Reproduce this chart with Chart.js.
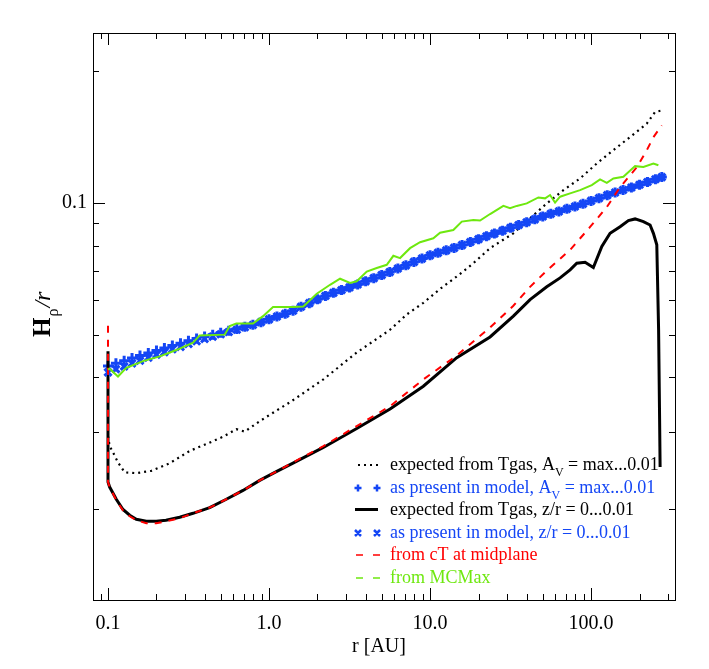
<!DOCTYPE html>
<html>
<head>
<meta charset="utf-8">
<script src="https://cdn.jsdelivr.net/npm/chart.js@4.4.0/dist/chart.umd.min.js"></script>
<style>
  html, body { margin: 0; padding: 0; background: #fff; }
  canvas { display: block; }
</style>
</head>
<body>
<canvas id="myChart" width="709" height="669"></canvas>
<script>
// values: r [AU] and H_p/r
var rGasAv = [0.1, 0.1024, 0.1074, 0.1154, 0.127, 0.1499, 0.1857, 0.2416, 0.3218, 0.4078, 0.5179, 0.6266, 0.7067, 0.8755, 1.110, 1.345, 2.175, 3.505, 5.645, 7.166, 9.087, 11.54, 14.65, 18.57, 23.59, 32.91, 41.80, 53.06, 67.29, 85.44, 108.5, 137.6, 174.7, 221.8, 249.7, 274.8];
var hGasAv = [0.0294, 0.0279, 0.0270, 0.0256, 0.0243, 0.0242, 0.0245, 0.0255, 0.0272, 0.0282, 0.0293, 0.0305, 0.0301, 0.0318, 0.0336, 0.0351, 0.0396, 0.0456, 0.0514, 0.0557, 0.0592, 0.0637, 0.0680, 0.0729, 0.0789, 0.0853, 0.0923, 0.0998, 0.1070, 0.1138, 0.1231, 0.1320, 0.1415, 0.1518, 0.1613, 0.1627];

var rModel = [0.1, 0.112, 0.126, 0.141, 0.158, 0.178, 0.2, 0.224, 0.251, 0.282, 0.316, 0.355, 0.398, 0.447, 0.501, 0.562, 0.631, 0.708, 0.794, 0.891,
  1.0, 1.12, 1.26, 1.41, 1.58, 1.78, 2.0, 2.24, 2.51, 2.82, 3.16, 3.55, 3.98, 4.47, 5.01, 5.62, 6.31, 7.08, 7.94, 8.91,
  10, 11.2, 12.6, 14.1, 15.8, 17.8, 20, 22.4, 25.1, 28.2, 31.6, 35.5, 39.8, 44.7, 50.1, 56.2, 63.1, 70.8, 79.4, 89.1,
  100, 112, 126, 141, 158, 178, 200, 224, 251, 275];
var hModelAv = [0.0425, 0.0431, 0.0437, 0.0443, 0.0449, 0.0455, 0.0461, 0.0467, 0.0473, 0.0479, 0.0485, 0.0491, 0.0496, 0.0501, 0.0506, 0.0511, 0.0516, 0.0522, 0.0528, 0.0535,
  0.0543, 0.0551, 0.0559, 0.0568, 0.0580, 0.0591, 0.0603, 0.0614, 0.0624, 0.0633, 0.0642, 0.0652, 0.0663, 0.0674, 0.0685, 0.0696, 0.0709, 0.0721, 0.0734, 0.0747,
  0.0760, 0.0770, 0.0780, 0.0790, 0.0802, 0.0815, 0.0827, 0.0840, 0.0852, 0.0865, 0.0878, 0.0891, 0.0904, 0.0918, 0.0932, 0.0945, 0.0957, 0.0970, 0.0982, 0.0996,
  0.1011, 0.1026, 0.1042, 0.1057, 0.1071, 0.1085, 0.1101, 0.1117, 0.1133, 0.1146];
var hModelZ = [0.0411, 0.0418, 0.0424, 0.0431, 0.0437, 0.0444, 0.0451, 0.0457, 0.0464, 0.0470, 0.0477, 0.0484, 0.0490, 0.0496, 0.0502, 0.0508, 0.0514, 0.0521, 0.0527, 0.0535,
  0.0543, 0.0551, 0.0559, 0.0568, 0.0580, 0.0591, 0.0603, 0.0614, 0.0624, 0.0633, 0.0642, 0.0652, 0.0663, 0.0674, 0.0685, 0.0696, 0.0709, 0.0721, 0.0734, 0.0747,
  0.0760, 0.0770, 0.0780, 0.0790, 0.0802, 0.0815, 0.0827, 0.0840, 0.0852, 0.0865, 0.0878, 0.0891, 0.0904, 0.0918, 0.0932, 0.0945, 0.0957, 0.0970, 0.0982, 0.0996,
  0.1011, 0.1026, 0.1042, 0.1057, 0.1071, 0.1085, 0.1101, 0.1117, 0.1133, 0.1146];

var rGasZ = [0.1, 0.1, 0.1024, 0.1126, 0.1239, 0.1364, 0.1499, 0.1729, 0.1995, 0.2292, 0.2788, 0.3373, 0.4282, 0.5430, 0.6895, 0.8755, 1.110, 1.409, 2.175, 3.505, 5.645, 9.087, 14.65, 23.59, 32.91, 41.80, 53.06, 64.20, 74.07, 81.50, 91.78, 103.3, 116.6, 131.2, 151.4, 170.5, 187.6, 211.3, 232.5, 243.8, 255.9, 262.6, 266.4, 268.3];
var hGasZ = [0.0459, 0.0231, 0.0225, 0.0211, 0.0200, 0.0194, 0.0190, 0.0188, 0.0188, 0.0189, 0.0192, 0.0196, 0.0202, 0.0211, 0.0221, 0.0233, 0.0244, 0.0255, 0.0277, 0.0306, 0.0339, 0.0382, 0.0444, 0.0495, 0.0552, 0.0602, 0.0644, 0.0675, 0.0704, 0.0729, 0.0733, 0.0713, 0.0796, 0.0853, 0.0883, 0.0912, 0.0920, 0.0907, 0.0891, 0.0853, 0.0803, 0.0514, 0.0321, 0.0250];

var rMid = [0.1, 0.1, 0.1024, 0.1126, 0.1239, 0.1364, 0.1499, 0.1729, 0.1995, 0.2292, 0.2788, 0.3373, 0.4282, 0.5430, 0.6895, 0.8755, 1.110, 1.409, 2.175, 3.505, 5.645, 9.087, 14.65, 23.59, 32.91, 41.80, 53.06, 74.07, 98.6, 125.2, 151.4, 192.3, 221.8, 243.8, 274.8];
var hMid = [0.0525, 0.0231, 0.0225, 0.0210, 0.0199, 0.0193, 0.0189, 0.0186, 0.0186, 0.0188, 0.0191, 0.0196, 0.0202, 0.0211, 0.0221, 0.0233, 0.0244, 0.0256, 0.0279, 0.0310, 0.0344, 0.0396, 0.0449, 0.0520, 0.0583, 0.0644, 0.0701, 0.0782, 0.0882, 0.0979, 0.1087, 0.1207, 0.1320, 0.1413, 0.1504];

var rMcmax = [0.1, 0.1024, 0.1154, 0.1299, 0.1650, 0.2095, 0.2656, 0.3373, 0.3712, 0.5306, 0.5699, 0.6266, 0.7954, 0.9178, 1.059, 1.409, 1.633, 1.979, 2.393, 2.761, 3.185, 3.505, 4.045, 4.665, 5.384, 5.916, 6.512, 7.513, 8.668, 10.48, 11.54, 13.95, 15.74, 18.57, 20.45, 23.59, 28.53, 31.40, 34.56, 39.87, 47.06, 51.80, 55.63, 59.75, 64.20, 74.07, 85.44, 101.0, 113.7, 125.2, 137.6, 158.7, 187.6, 211.3, 243.8, 261.8];
var hMcmax = [0.0417, 0.0419, 0.0402, 0.0421, 0.0436, 0.0447, 0.0462, 0.0480, 0.0499, 0.0501, 0.0524, 0.0531, 0.0531, 0.0552, 0.0579, 0.0579, 0.0581, 0.0621, 0.0651, 0.0672, 0.0657, 0.0663, 0.0698, 0.0711, 0.0723, 0.0758, 0.0749, 0.0789, 0.0814, 0.0831, 0.0856, 0.0868, 0.0907, 0.0915, 0.0912, 0.0944, 0.0985, 0.0973, 0.0985, 0.0998, 0.1030, 0.1025, 0.1043, 0.1002, 0.1034, 0.1052, 0.1070, 0.1099, 0.1132, 0.1112, 0.1138, 0.1148, 0.1214, 0.1209, 0.1231, 0.1220];

// axis ticks
var xMajor = [0.1, 1, 10, 100];
var xLabels = ['0.1', '1.0', '10.0', '100.0'];
var xMinor = [0.09, 0.2, 0.3, 0.4, 0.5, 0.6, 0.7, 0.8, 0.9, 2, 3, 4, 5, 6, 7, 8, 9, 20, 30, 40, 50, 60, 70, 80, 90, 200, 300];
var yMajor = [0.1];
var yLabels = ['0.1'];
var yMinor = [0.02, 0.03, 0.04, 0.05, 0.06, 0.07, 0.08, 0.09, 0.2];

var BLUE = '#1446f5', GREEN = '#6ee80f', RED = '#ff0000', BLACK = '#000000';
var serif = 'Liberation Serif';

function pts(xs, ys) {
  var out = [];
  for (var i = 0; i < xs.length; i++) out.push({x: xs[i], y: ys[i]});
  return out;
}

function tickList(major, minor) {
  var t = [];
  major.forEach(function (v) { t.push({value: v, major: true}); });
  minor.forEach(function (v) { t.push({value: v, major: false}); });
  t.sort(function (a, b) { return a.value - b.value; });
  return t;
}

// IDL style frame with inward ticks on all four sides
var frameTicks = {
  id: 'frameTicks',
  afterDatasetsDraw: function (chart) {
    var ctx = chart.ctx, a = chart.chartArea;
    var xs = chart.scales.x, ys = chart.scales.y;
    ctx.save();
    ctx.strokeStyle = '#000';
    ctx.lineWidth = 1;
    ctx.strokeRect(a.left + 0.5, a.top + 0.5, a.right - a.left, a.bottom - a.top);
    ctx.beginPath();
    xs.ticks.forEach(function (t) {
      var p = Math.round(xs.getPixelForValue(t.value)) + 0.5;
      var len = t.major ? 12 : 6;
      ctx.moveTo(p, a.bottom); ctx.lineTo(p, a.bottom - len);
      ctx.moveTo(p, a.top); ctx.lineTo(p, a.top + len);
    });
    ys.ticks.forEach(function (t) {
      var p = Math.round(ys.getPixelForValue(t.value)) + 0.5;
      var len = t.major ? 12 : 6;
      ctx.moveTo(a.left, p); ctx.lineTo(a.left + len, p);
      ctx.moveTo(a.right, p); ctx.lineTo(a.right - len, p);
    });
    ctx.stroke();
    ctx.restore();
  }
};

var legendRows = [
  {text: 'expected from Tgas, A', sub: 'V', tail: ' = max...0.01', color: BLACK, sample: 'dots'},
  {text: 'as present in model, A', sub: 'V', tail: ' = max...0.01', color: BLUE, sample: 'plus'},
  {text: 'expected from Tgas, z/r = 0...0.01', color: BLACK, sample: 'line'},
  {text: 'as present in model, z/r = 0...0.01', color: BLUE, sample: 'cross'},
  {text: 'from cT at midplane', color: RED, sample: 'dash'},
  {text: 'from MCMax', color: GREEN, sample: 'dash'}
];

var labelsPlugin = {
  id: 'labelsPlugin',
  afterDraw: function (chart) {
    var ctx = chart.ctx;
    ctx.save();
    // legend
    var y0 = 464, dy = 22.6, x0 = 355, tx = 390;
    var lf = '18px "' + serif + '"';
    legendRows.forEach(function (row, i) {
      var y = Math.round(y0 + i * dy);
      ctx.strokeStyle = row.color;
      ctx.fillStyle = row.color;
      ctx.setLineDash([]);
      ctx.beginPath();
      if (row.sample === 'dots') {
        for (var k = 0; k < 4; k++) ctx.fillRect(x0 + 3 + k * 6, y, 2, 2);
      } else if (row.sample === 'line') {
        ctx.lineWidth = 3;
        ctx.moveTo(x0, y + 0.5); ctx.lineTo(x0 + 23, y + 0.5);
      } else if (row.sample === 'plus') {
        ctx.lineWidth = 2.5;
        [x0 + 3, x0 + 22].forEach(function (c) {
          ctx.moveTo(c - 3.5, y + 1); ctx.lineTo(c + 3.5, y + 1);
          ctx.moveTo(c, y - 2.5); ctx.lineTo(c, y + 4.5);
        });
      } else if (row.sample === 'cross') {
        ctx.lineWidth = 2.5;
        [x0 + 3, x0 + 22].forEach(function (c) {
          ctx.moveTo(c - 3, y - 2); ctx.lineTo(c + 3, y + 4);
          ctx.moveTo(c + 3, y - 2); ctx.lineTo(c - 3, y + 4);
        });
      } else if (row.sample === 'dash') {
        ctx.lineWidth = 1.5;
        ctx.moveTo(x0 + 1, y + 1); ctx.lineTo(x0 + 8, y + 1);
        ctx.moveTo(x0 + 18, y + 1); ctx.lineTo(x0 + 25, y + 1);
      }
      ctx.stroke();

      ctx.font = lf;
      ctx.textBaseline = 'alphabetic';
      ctx.textAlign = 'left';
      var base = y + 6;
      ctx.fillText(row.text, tx, base);
      if (row.sub) {
        var w = ctx.measureText(row.text).width;
        ctx.font = '12px "' + serif + '"';
        ctx.fillText(row.sub, tx + w, base + 6);
        var ws = ctx.measureText(row.sub).width;
        ctx.font = lf;
        ctx.fillText(row.tail, tx + w + ws, base);
      }
    });

    // axis titles
    ctx.fillStyle = '#000';
    ctx.font = '20px "' + serif + '"';
    ctx.textAlign = 'center';
    ctx.textBaseline = 'alphabetic';
    ctx.fillText('r [AU]', 379, 652);

    ctx.translate(50, 337);
    ctx.rotate(-Math.PI / 2);
    ctx.textAlign = 'left';
    ctx.font = 'bold 25px "' + serif + '"';
    ctx.fillText('H', 0, 0);
    var wH = ctx.measureText('H').width;
    ctx.font = '16px "' + serif + '"';
    ctx.fillText('\u03c1', wH + 1, 8);
    var wR = ctx.measureText('\u03c1').width;
    ctx.font = 'italic 24px "' + serif + '"';
    ctx.fillText('/r', wH + wR + 2, 0);
    ctx.restore();
  }
};

var ctx = document.getElementById('myChart').getContext('2d');
var chart = new Chart(ctx, {
  type: 'scatter',
  data: {
    datasets: [
      {
        label: 'expected from Tgas, Av = max...0.01',
        data: pts(rGasAv, hGasAv),
        showLine: true, borderColor: BLACK, borderWidth: 2.2, borderDash: [2, 4],
        pointRadius: 0, order: 6
      },
      {
        label: 'as present in model, Av = max...0.01',
        data: pts(rModel, hModelAv),
        showLine: false, pointStyle: 'cross', pointRadius: 5, borderWidth: 3,
        borderColor: BLUE, backgroundColor: BLUE, order: 5
      },
      {
        label: 'expected from Tgas, z/r = 0...0.01',
        data: pts(rGasZ, hGasZ),
        showLine: true, borderColor: BLACK, borderWidth: 3, pointRadius: 0, order: 4
      },
      {
        label: 'as present in model, z/r = 0...0.01',
        data: pts(rModel, hModelZ),
        showLine: false, pointStyle: 'crossRot', pointRadius: 5, borderWidth: 3,
        borderColor: BLUE, backgroundColor: BLUE, order: 3
      },
      {
        label: 'from cT at midplane',
        data: pts(rMid, hMid),
        showLine: true, borderColor: RED, borderWidth: 2, borderDash: [7, 7],
        pointRadius: 0, order: 2
      },
      {
        label: 'from MCMax',
        data: pts(rMcmax, hMcmax),
        showLine: true, borderColor: GREEN, borderWidth: 2, pointRadius: 0, order: 1
      }
    ]
  },
  options: {
    responsive: false,
    animation: false,
    devicePixelRatio: 1,
    layout: { padding: { left: 0, right: 34, top: 33, bottom: 0 } },
    plugins: { legend: { display: false }, tooltip: { enabled: false } },
    scales: {
      x: {
        type: 'logarithmic',
        min: 0.0807, max: 332,
        grid: { display: false, drawTicks: false },
        border: { display: false },
        afterBuildTicks: function (s) { s.ticks = tickList(xMajor, xMinor); },
        afterFit: function (s) { s.height = 69; },
        ticks: {
          autoSkip: false, maxRotation: 0, padding: 12, color: '#000',
          font: { family: serif, size: 20 },
          callback: function (v) { var i = xMajor.indexOf(v); return i >= 0 ? xLabels[i] : ''; }
        }
      },
      y: {
        type: 'logarithmic',
        min: 0.01243, max: 0.2443,
        grid: { display: false, drawTicks: false },
        border: { display: false },
        afterBuildTicks: function (s) { s.ticks = tickList(yMajor, yMinor); },
        afterFit: function (s) { s.width = 93; },
        ticks: {
          autoSkip: false, padding: 6, color: '#000',
          font: { family: serif, size: 20 },
          callback: function (v) { var i = yMajor.indexOf(v); return i >= 0 ? yLabels[i] : ''; }
        }
      }
    }
  },
  plugins: [frameTicks, labelsPlugin]
});
</script>
</body>
</html>
